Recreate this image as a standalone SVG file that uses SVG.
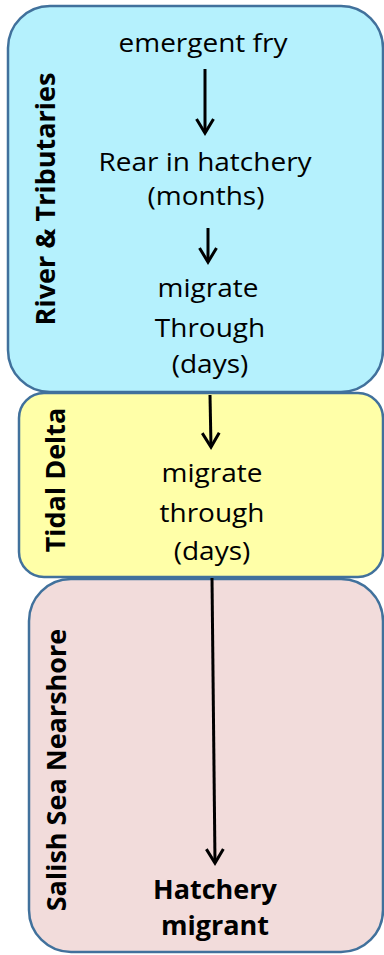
<svg xmlns="http://www.w3.org/2000/svg" width="384" height="955" viewBox="0 0 384 955">
<defs>
<style>
.box{stroke:#41719C;stroke-width:2.5}
.t{font-family:"Open Sans","Liberation Sans",sans-serif;font-size:25px;fill:#000;text-anchor:middle}
.b{font-family:"Open Sans","Liberation Sans",sans-serif;font-size:27px;font-weight:bold;fill:#000;text-anchor:middle}
.c{stroke:#000;stroke-width:3;fill:none}
</style>
<marker id="ah" markerUnits="userSpaceOnUse" viewBox="0 0 20 20" markerWidth="20" markerHeight="20" refX="16" refY="10" orient="auto">
<path d="M2,1.5 L16,10 L2,18.5" fill="none" stroke="#000" stroke-width="3"/>
</marker>
</defs>
<rect width="384" height="955" fill="#fff"/>
<g id="river">
<rect class="box" x="8" y="6" width="375" height="386" rx="42" fill="#B5F1FD"/>
<text class="b" transform="translate(55,199) rotate(-90)">River &amp; Tributaries</text>
</g>
<g id="tidal">
<rect class="box" x="19" y="393" width="364" height="184" rx="25" fill="#FFFFA8"/>
<text class="b" transform="translate(65,480) rotate(-90)">Tidal Delta</text>
</g>
<g id="salish">
<rect class="box" x="29" y="579" width="354" height="373" rx="42" fill="#F2DCDB"/>
<text class="b" transform="translate(66,770) rotate(-90)">Salish Sea Nearshore</text>
</g>
<g id="fry"><text class="t" transform="translate(203,52) scale(1.12,1)">emergent fry</text></g>
<g id="rear">
<text class="t" transform="translate(205,171) scale(1.12,1)">Rear in hatchery</text>
<text class="t" transform="translate(206,205) scale(1.12,1)">(months)</text>
</g>
<g id="migrate-river">
<text class="t" transform="translate(208,297) scale(1.12,1)">migrate</text>
<text class="t" transform="translate(210,337) scale(1.12,1)">Through</text>
<text class="t" transform="translate(210,373) scale(1.12,1)">(days)</text>
</g>
<g id="migrate-delta">
<text class="t" transform="translate(212,482) scale(1.12,1)">migrate</text>
<text class="t" transform="translate(212,522) scale(1.12,1)">through</text>
<text class="t" transform="translate(212,560) scale(1.12,1)">(days)</text>
</g>
<g id="migrant">
<text class="b" x="215" y="899">Hatchery</text>
<text class="b" x="215" y="935">migrant</text>
</g>
<g id="connectors">
<line class="c" x1="205" y1="69" x2="205" y2="133" marker-end="url(#ah)"/>
<line class="c" x1="208" y1="228" x2="208" y2="262" marker-end="url(#ah)"/>
<line class="c" x1="210" y1="395" x2="211" y2="447" marker-end="url(#ah)"/>
<line class="c" x1="212" y1="578" x2="215" y2="863" marker-end="url(#ah)"/>
</g>
</svg>
